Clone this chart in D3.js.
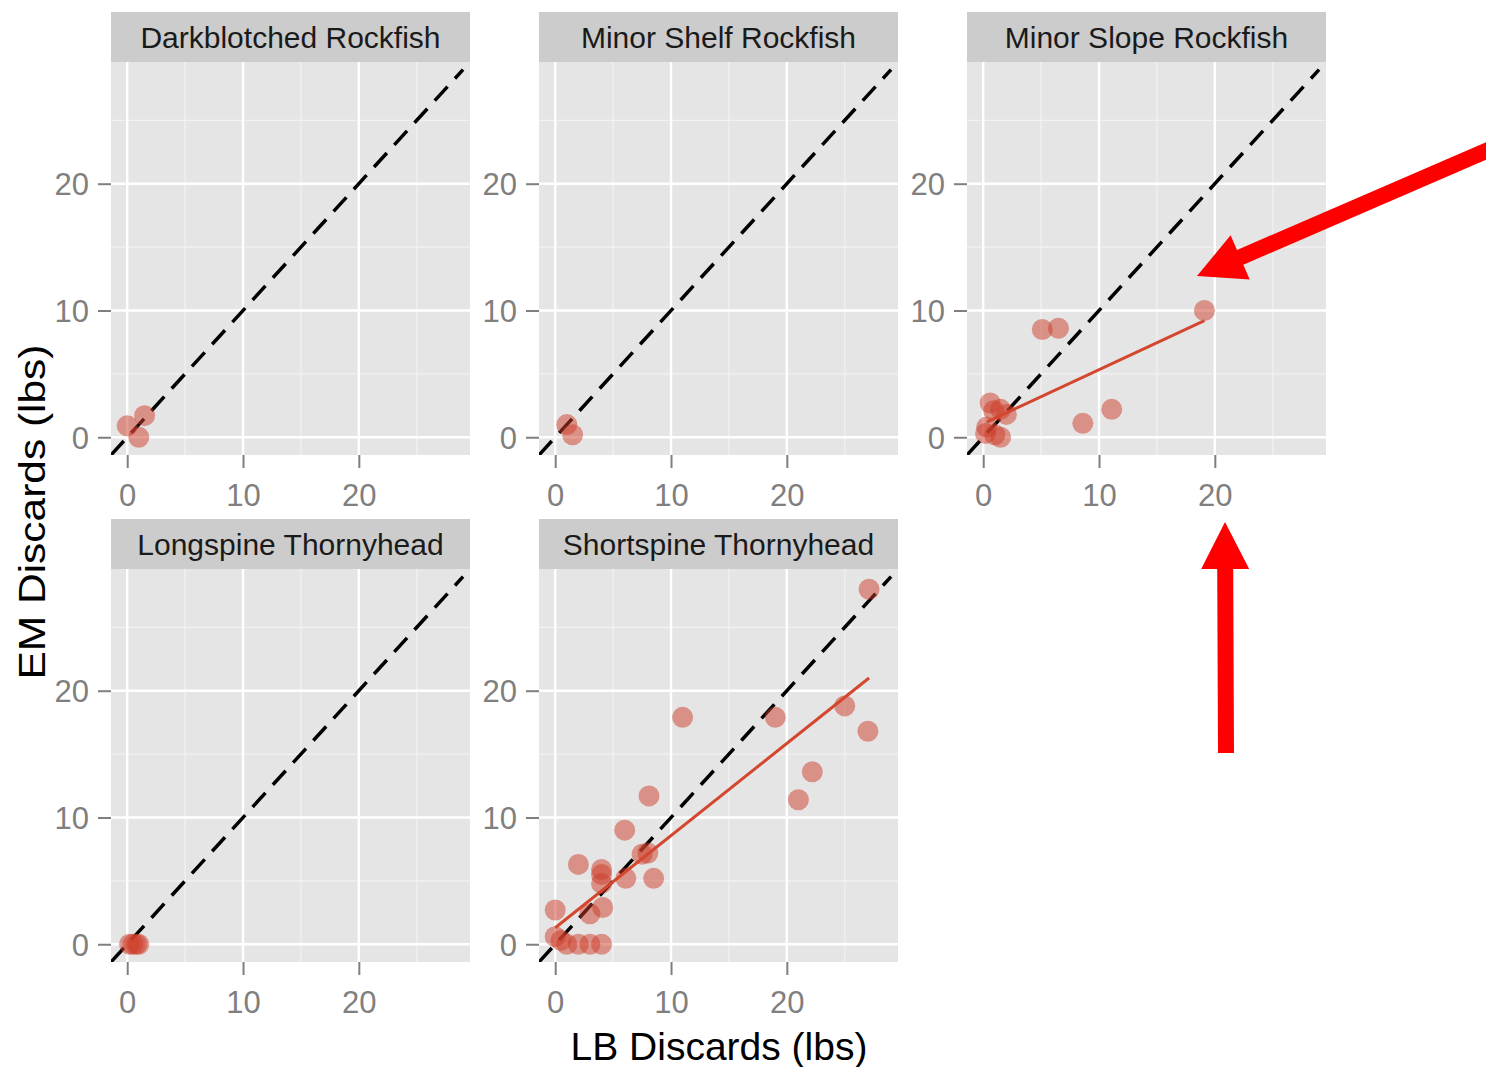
<!DOCTYPE html>
<html>
<head>
<meta charset="utf-8">
<script src="https://cdn.jsdelivr.net/npm/d3@7"></script>
<style>
  body { margin: 0; background: #fff; }
  svg { display: block; font-family: "Liberation Sans", Arial, sans-serif; }
</style>
</head>
<body>
<svg id="chart" width="1486" height="1067"></svg>
<script>
// facet titles, in panel order (row by row)
const species = ["Darkblotched Rockfish", "Minor Shelf Rockfish", "Minor Slope Rockfish",
                 "Longspine Thornyhead", "Shortspine Thornyhead"];

// LB discards (x) and EM discards (y) per species, lbs
const lbDarkblotched = [0.0, 1.5, 1.0];
const emDarkblotched = [0.9, 1.7, 0.0];

const lbMinorShelf = [1.0, 1.5];
const emMinorShelf = [1.0, 0.2];

const lbMinorSlope = [19.1, 5.1, 6.5, 11.1, 8.6, 0.6, 0.9, 2.0, 1.5, 0.3, 1.5, 1.0, 0.2];
const emMinorSlope = [10.0, 8.5, 8.6, 2.2, 1.1, 2.7, 2.1, 1.8, 2.2, 0.8, 0.0, 0.2, 0.3];

const lbLongspine = [0.2, 0.5, 0.8, 1.0];
const emLongspine = [0.0, 0.0, 0.0, 0.0];

const lbShortspine = [11.0, 19.0, 25.0, 27.0, 22.2, 21.0, 8.1, 6.0, 7.5, 8.0, 2.0, 4.0, 4.0,
                      4.0, 6.1, 8.5, 4.1, 3.0, 0.0, 0.0, 0.5, 1.0, 2.0, 3.0, 4.0, 27.1];
const emShortspine = [17.9, 17.9, 18.8, 16.8, 13.6, 11.4, 11.7, 9.0, 7.1, 7.2, 6.3, 5.9, 5.5,
                      4.8, 5.2, 5.2, 2.9, 2.4, 2.7, 0.6, 0.3, 0.0, 0.0, 0.0, 0.0, 28.0];

// linear fit lines: [panel, x1, y1, x2, y2]
const fitLines = [
  [2, 0.3, 1.2, 19.1, 9.2],
  [4, 0.0, 1.3, 27.1, 21.0]
];

const xTicks = [0, 10, 20];
const yTicks = [0, 10, 20];
const minorBreaks = [5, 15, 25];

const lbData = [lbDarkblotched, lbMinorShelf, lbMinorSlope, lbLongspine, lbShortspine];
const emData = [emDarkblotched, emMinorShelf, emMinorSlope, emLongspine, emShortspine];

const svg = d3.select('#chart');

const panelW = 359, panelH = 393, stripH = 50;
const colStep = 428, rowStep = 507;
const left0 = 111, top0 = 12;

const x = d3.scaleLinear().domain([-1.4, 29.6]).range([0, panelW]);
const y = d3.scaleLinear().domain([-1.4, 29.6]).range([panelH, 0]);

species.forEach(function (name, i) {
  const col = i % 3, row = Math.floor(i / 3);
  const left = left0 + col * colStep;
  const stripTop = top0 + row * rowStep;

  // strip
  svg.append('rect')
    .attr('x', left).attr('y', stripTop)
    .attr('width', panelW).attr('height', stripH)
    .attr('fill', '#cccccc');
  svg.append('text')
    .attr('x', left + panelW / 2).attr('y', stripTop + 36)
    .attr('text-anchor', 'middle')
    .attr('font-size', 30)
    .attr('fill', '#1a1a1a')
    .text(name);

  const g = svg.append('g').attr('transform', 'translate(' + left + ',' + (stripTop + stripH) + ')');

  g.append('clipPath').attr('id', 'clip' + i)
    .append('rect').attr('width', panelW).attr('height', panelH);

  g.append('rect').attr('width', panelW).attr('height', panelH).attr('fill', '#e5e5e5');

  // minor grid
  g.selectAll('.mx').data(minorBreaks).join('line')
    .attr('x1', d => x(d)).attr('x2', d => x(d))
    .attr('y1', 0).attr('y2', panelH)
    .attr('stroke', '#f2f2f2').attr('stroke-width', 1.2);
  g.selectAll('.my').data(minorBreaks).join('line')
    .attr('y1', d => y(d)).attr('y2', d => y(d))
    .attr('x1', 0).attr('x2', panelW)
    .attr('stroke', '#f2f2f2').attr('stroke-width', 1.2);
  // major grid
  g.selectAll('.gx').data(xTicks).join('line')
    .attr('x1', d => x(d)).attr('x2', d => x(d))
    .attr('y1', 0).attr('y2', panelH)
    .attr('stroke', '#ffffff').attr('stroke-width', 2.4);
  g.selectAll('.gy').data(yTicks).join('line')
    .attr('y1', d => y(d)).attr('y2', d => y(d))
    .attr('x1', 0).attr('x2', panelW)
    .attr('stroke', '#ffffff').attr('stroke-width', 2.4);

  const inner = g.append('g').attr('clip-path', 'url(#clip' + i + ')');

  // 1:1 reference line
  inner.append('line')
    .attr('x1', x(-1.4)).attr('y1', y(-1.4))
    .attr('x2', x(29.0)).attr('y2', y(29.0))
    .attr('stroke', '#000').attr('stroke-width', 3.5)
    .attr('stroke-dasharray', '19,11');

  // points
  const pts = lbData[i].map((v, k) => ({ x: v, y: emData[i][k] }));
  inner.selectAll('circle').data(pts).join('circle')
    .attr('cx', d => x(d.x)).attr('cy', d => y(d.y))
    .attr('r', 10.5)
    .attr('fill', 'rgb(206,60,40)')
    .attr('fill-opacity', 0.5);

  // fit line
  fitLines.filter(f => f[0] === i).forEach(function (f) {
    inner.append('line')
      .attr('x1', x(f[1])).attr('y1', y(f[2]))
      .attr('x2', x(f[3])).attr('y2', y(f[4]))
      .attr('stroke', '#d4472f').attr('stroke-width', 3);
  });

  // axes
  const ax = g.append('g').attr('transform', 'translate(0,' + panelH + ')')
    .call(d3.axisBottom(x).tickValues(xTicks).tickSize(13).tickPadding(16).tickFormat(d3.format('d')));
  const ay = g.append('g')
    .call(d3.axisLeft(y).tickValues(yTicks).tickSize(13).tickPadding(9).tickFormat(d3.format('d')));
  [ax, ay].forEach(function (a) {
    a.select('.domain').remove();
    a.selectAll('line').attr('stroke', '#7f7f7f').attr('stroke-width', 2);
    a.selectAll('text').attr('fill', '#7f7f7f').attr('font-size', 31)
      .attr('font-family', '"Liberation Sans", Arial, sans-serif');
  });
  ay.selectAll('text').attr('dy', '0.36em');
});

// axis titles
svg.append('text')
  .attr('x', 719).attr('y', 1060)
  .attr('text-anchor', 'middle')
  .attr('font-size', 39)
  .attr('fill', '#000')
  .text('LB Discards (lbs)');

svg.append('text')
  .attr('transform', 'translate(45,512) rotate(-90)')
  .attr('text-anchor', 'middle')
  .attr('font-size', 37)
  .attr('textLength', 335)
  .attr('lengthAdjust', 'spacingAndGlyphs')
  .attr('fill', '#000')
  .text('EM Discards (lbs)');

// red annotation arrows
function arrowPath(tip, tail, headLen, headHalf, shaftHalf) {
  const dx = tail[0] - tip[0], dy = tail[1] - tip[1];
  const len = Math.hypot(dx, dy);
  const ux = dx / len, uy = dy / len;
  const px = -uy, py = ux;
  const bx = tip[0] + ux * headLen, by = tip[1] + uy * headLen;
  const p = [
    tip,
    [bx + px * headHalf, by + py * headHalf],
    [bx + px * shaftHalf, by + py * shaftHalf],
    [tail[0] + px * shaftHalf, tail[1] + py * shaftHalf],
    [tail[0] - px * shaftHalf, tail[1] - py * shaftHalf],
    [bx - px * shaftHalf, by - py * shaftHalf],
    [bx - px * headHalf, by - py * headHalf]
  ];
  return 'M' + p.map(q => q[0].toFixed(1) + ',' + q[1].toFixed(1)).join('L') + 'Z';
}

svg.append('path')
  .attr('d', arrowPath([1197, 276], [1500, 145], 47, 24, 8))
  .attr('fill', '#ff0000');
svg.append('path')
  .attr('d', arrowPath([1225, 522], [1226, 753], 47, 24, 8))
  .attr('fill', '#ff0000');
</script>
</body>
</html>
